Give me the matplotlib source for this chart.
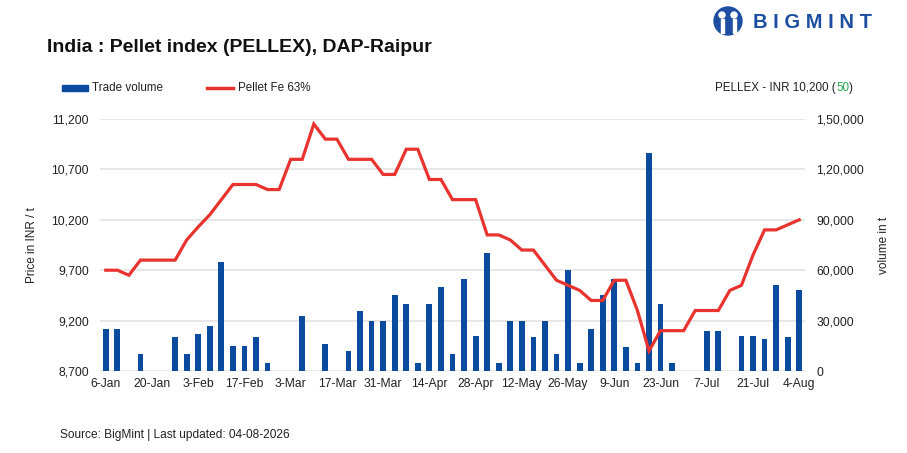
import numpy as np
import matplotlib
matplotlib.use("Agg")
import matplotlib.pyplot as plt
from matplotlib.patches import Rectangle, Ellipse
from matplotlib.lines import Line2D
from matplotlib.ticker import FuncFormatter

plt.rcParams['font.family'] = ['Liberation Sans', 'DejaVu Sans']

# Tue / Fri assessment dates
dates = ["6-Jan", "9-Jan", "13-Jan", "16-Jan", "20-Jan", "23-Jan", "27-Jan", "30-Jan",
         "3-Feb", "6-Feb", "10-Feb", "13-Feb", "17-Feb", "20-Feb", "24-Feb", "27-Feb",
         "3-Mar", "6-Mar", "10-Mar", "13-Mar", "17-Mar", "20-Mar", "24-Mar", "27-Mar", "31-Mar",
         "3-Apr", "7-Apr", "10-Apr", "14-Apr", "17-Apr", "21-Apr", "24-Apr", "28-Apr",
         "1-May", "5-May", "8-May", "12-May", "15-May", "19-May", "22-May", "26-May", "29-May",
         "2-Jun", "5-Jun", "9-Jun", "12-Jun", "16-Jun", "19-Jun", "23-Jun", "26-Jun", "30-Jun",
         "3-Jul", "7-Jul", "10-Jul", "14-Jul", "17-Jul", "21-Jul", "24-Jul", "28-Jul", "31-Jul",
         "4-Aug"]

trade_volume = [25000, 25000, 0, 10000, 0, 0, 20000, 10000, 22000, 27000,
                65000, 15000, 15000, 20000, 5000, 0, 0, 33000, 0, 16000,
                0, 12000, 36000, 30000, 30000, 45000, 40000, 5000, 40000, 50000,
                10000, 55000, 21000, 70000, 5000, 30000, 30000, 20000, 30000, 10000,
                60000, 5000, 25000, 45000, 55000, 14000, 5000, 130000, 40000, 5000,
                0, 0, 24000, 24000, 0, 21000, 21000, 19000, 51000, 20000,
                48000]

pellet_fe63 = [9700, 9700, 9650, 9800, 9800, 9800, 9800, 10000, 10130, 10250,
               10400, 10550, 10550, 10550, 10500, 10500, 10800, 10800, 11150, 11000,
               11000, 10800, 10800, 10800, 10650, 10650, 10900, 10900, 10600, 10600,
               10400, 10400, 10400, 10050, 10050, 10000, 9900, 9900, 9750, 9600,
               9550, 9500, 9400, 9400, 9600, 9600, 9300, 8900, 9100, 9100,
               9100, 9300, 9300, 9300, 9500, 9550, 9850, 10100, 10100, 10150,
               10200]

price_ticks = [8700, 9200, 9700, 10200, 10700, 11200]
volume_ticks = [0, 30000, 60000, 90000, 120000, 150000]
volume_labels = ["0", "30,000", "60,000", "90,000", "1,20,000", "1,50,000"]

BLUE = "#0a4a9f"
RED = "#e8332f"
GRID = "#e3e3e3"
TXT = "#222222"
LOGO = "#1d4ea1"

W, H = 907, 453
fig = plt.figure(figsize=(W / 100, H / 100), dpi=100)


def fx(px):
    return px / W


def fy(py):
    return 1 - py / H


ax = fig.add_axes([fx(100), fy(371), fx(805) - fx(100), fy(119) - fy(371)])
ax2 = ax.twinx()
ax.set_zorder(ax2.get_zorder() + 1)
ax.patch.set_visible(False)

x = np.arange(len(dates))
ax2.bar(x, trade_volume, width=0.5, color=BLUE, zorder=2)
ax.plot(x, pellet_fe63, color=RED, lw=2.3, solid_joinstyle='miter', zorder=3)

ax.set_xlim(-0.5, len(dates) - 0.5)
ax.set_ylim(price_ticks[0], price_ticks[-1])
ax2.set_ylim(volume_ticks[0], volume_ticks[-1])

ax.set_yticks(price_ticks)
ax.yaxis.set_major_formatter(FuncFormatter(lambda v, p: f"{int(v):,}"))
ax2.set_yticks(volume_ticks)
ax2.set_yticklabels(volume_labels)
ax.set_xticks(x[::4])
ax.set_xticklabels(dates[::4])

ax2.yaxis.grid(True, color=GRID, lw=1.2, zorder=0)
ax2.set_axisbelow(True)
for a in (ax, ax2):
    for s in a.spines.values():
        s.set_visible(False)
    a.tick_params(length=0, labelsize=8.7, colors=TXT)
ax.tick_params(axis='y', pad=8)
ax2.tick_params(axis='y', pad=8)
ax.tick_params(axis='x', pad=5)

fig.text(fx(32), fy(245), "Price in INR / t", rotation=90, ha='center', va='center',
         fontsize=8.5, color=TXT)
fig.text(fx(884), fy(245), "volume in t", rotation=90, ha='center', va='center',
         fontsize=8.5, color=TXT)

# title and header
fig.text(fx(47), fy(48), "India : Pellet index (PELLEX), DAP-Raipur", fontsize=14,
         fontweight='bold', color="#111111", ha='left', va='center')

fig.patches.append(Rectangle((fx(62), fy(91)), fx(26), fy(85) - fy(91),
                             transform=fig.transFigure, color=BLUE))
fig.text(fx(92), fy(88), "Trade volume", fontsize=8.4, color=TXT, va='center')
fig.lines.append(Line2D([fx(207), fx(233)], [fy(88), fy(88)], transform=fig.transFigure,
                        color=RED, lw=2.5))
fig.text(fx(238), fy(88), "Pellet Fe 63%", fontsize=8.4, color=TXT, va='center')

t1 = fig.text(fx(853), fy(88), ")", fontsize=8.4, color=TXT, ha='right', va='center')
fig.canvas.draw()
r = fig.canvas.get_renderer()
bb = t1.get_window_extent(r)
t2 = fig.text(bb.x0 / W, fy(88), "50", fontsize=8.4, color="#1faa4a", ha='right', va='center')
bb = t2.get_window_extent(r)
fig.text(bb.x0 / W, fy(88), "PELLEX - INR 10,200 (", fontsize=8.4, color=TXT,
         ha='right', va='center')

# logo
fig.patches.append(Ellipse((fx(728), fy(21)), 28 / W, 28 / H, transform=fig.transFigure,
                           color=LOGO))
fig.patches.append(Ellipse((fx(722), fy(15)), 6 / W, 6 / H, transform=fig.transFigure,
                           color="white"))
fig.patches.append(Ellipse((fx(734), fy(15)), 6 / W, 6 / H, transform=fig.transFigure,
                           color="white"))
fig.patches.append(Rectangle((fx(720.5), fy(33)), 3 / W, 14 / H, transform=fig.transFigure,
                             color="white"))
fig.patches.append(Rectangle((fx(732.5), fy(33)), 3 / W, 14 / H, transform=fig.transFigure,
                             color="white"))
fig.text(fx(753), fy(22), "B I G M I N T", fontsize=14.5, fontweight='bold', color=LOGO,
         ha='left', va='center')

fig.text(fx(60), fy(435), "Source: BigMint | Last updated: 04-08-2026", fontsize=8.6,
         color=TXT, ha='left', va='center')

fig.savefig("out.png", dpi=100)
